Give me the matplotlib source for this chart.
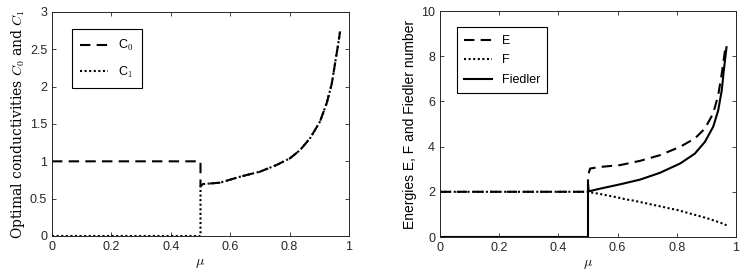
import matplotlib
matplotlib.use("Agg")
import matplotlib.pyplot as plt

plt.rcParams['font.family'] = ['Liberation Sans', 'DejaVu Sans']
plt.rcParams['mathtext.fontset'] = 'cm'

# left panel: optimal conductivities (C0 = C1 above mu = 0.5)
mu_c = [0.0, 0.5, 0.5, 0.509, 0.566, 0.633, 0.70, 0.756, 0.801, 0.835, 0.869,
        0.902, 0.925, 0.942, 0.953, 0.964, 0.97]
c_high = [1.0, 1.0, 0.669, 0.696, 0.714, 0.794, 0.861, 0.951, 1.04, 1.15, 1.31,
          1.53, 1.78, 2.04, 2.31, 2.58, 2.74]
c0 = c_high
c1 = [0.0, 0.0] + c_high[2:]

# right panel: energies and Fiedler number
mu_e = [0.0, 0.5, 0.5, 0.507, 0.541, 0.608, 0.676, 0.743, 0.811, 0.861, 0.895,
        0.923, 0.940, 0.952, 0.963, 0.968]
E = [2.0, 2.0, 2.7, 3.03, 3.10, 3.18, 3.37, 3.62, 3.99, 4.36, 4.8, 5.47,
     6.28, 7.24, 8.27, 8.4]
mu_f = [0.0, 0.5, 0.55, 0.6, 0.63, 0.65, 0.7, 0.75, 0.777, 0.8, 0.85, 0.9,
        0.95, 0.968]
F = [2.0, 2.0, 1.88, 1.75, 1.66, 1.62, 1.48, 1.34, 1.26, 1.2, 1.02, 0.84,
     0.62, 0.52]
mu_fd = [0.0, 0.5, 0.5, 0.502, 0.541, 0.608, 0.676, 0.743, 0.811, 0.861,
         0.895, 0.923, 0.940, 0.952, 0.959, 0.968]
fiedler = [0.0, 0.0, 2.35, 2.02, 2.14, 2.33, 2.54, 2.84, 3.25, 3.69, 4.21,
           4.88, 5.61, 6.5, 7.39, 8.4]

fig = plt.figure(figsize=(7.47, 2.79), dpi=100)
ax1 = fig.add_axes([52 / 747, 43 / 279, 297 / 747, 224 / 279])
ax2 = fig.add_axes([440 / 747, 42 / 279, 296 / 747, 226 / 279])

ax1.plot(mu_c, c0, color='black', linestyle=(0, (5, 3)), lw=1.5, label='C$_0$')
ax1.plot(mu_c, c1, color='black', linestyle=(0, (1, 1.2)), lw=1.5, label='C$_1$')
ax1.set_xlim(0, 1)
ax1.set_ylim(0, 3)
ax1.set_xticks([0, 0.2, 0.4, 0.6, 0.8, 1])
ax1.set_xticklabels(['0', '0.2', '0.4', '0.6', '0.8', '1'])
ax1.set_yticks([0, 0.5, 1, 1.5, 2, 2.5, 3])
ax1.set_yticklabels(['0', '0.5', '1', '1.5', '2', '2.5', '3'])
ax1.set_ylabel(r'Optimal conductivities $C_0$ and $C_1$', family='DejaVu Serif',
               fontsize=10, labelpad=2)
ax1.set_xlabel(r'$\mu$', fontsize=10, labelpad=2)
leg1 = ax1.legend(loc='upper left', bbox_to_anchor=(0.045, 0.95), fontsize=9,
                  fancybox=False, edgecolor='black', framealpha=1,
                  handlelength=2.2, borderpad=0.7, labelspacing=0.9)
leg1.get_frame().set_linewidth(0.8)

ax2.plot(mu_e, E, color='black', linestyle=(0, (5, 3)), lw=1.5, label='E')
ax2.plot(mu_f, F, color='black', linestyle=(0, (1, 1.2)), lw=1.5, label='F')
ax2.plot(mu_fd, fiedler, color='black', linestyle='-', lw=1.5, label='Fiedler')
ax2.set_xlim(0, 1)
ax2.set_ylim(0, 10)
ax2.set_xticks([0, 0.2, 0.4, 0.6, 0.8, 1])
ax2.set_xticklabels(['0', '0.2', '0.4', '0.6', '0.8', '1'])
ax2.set_yticks([0, 2, 4, 6, 8, 10])
ax2.set_ylabel('Energies E, F and Fiedler number', fontsize=10, labelpad=3)
ax2.set_xlabel(r'$\mu$', fontsize=10, labelpad=2)
leg2 = ax2.legend(loc='upper left', bbox_to_anchor=(0.035, 0.955), fontsize=9,
                  fancybox=False, edgecolor='black', framealpha=1,
                  handlelength=2.2, borderpad=0.6, labelspacing=0.6)
leg2.get_frame().set_linewidth(0.8)

for ax in (ax1, ax2):
    ax.tick_params(direction='in', top=True, right=True, labelsize=9,
                   length=3, width=0.6, colors='#262626', labelcolor='#262626')
    for s in ax.spines.values():
        s.set_linewidth(0.7)
        s.set_color('#262626')

fig.savefig('out.png', dpi=100)
